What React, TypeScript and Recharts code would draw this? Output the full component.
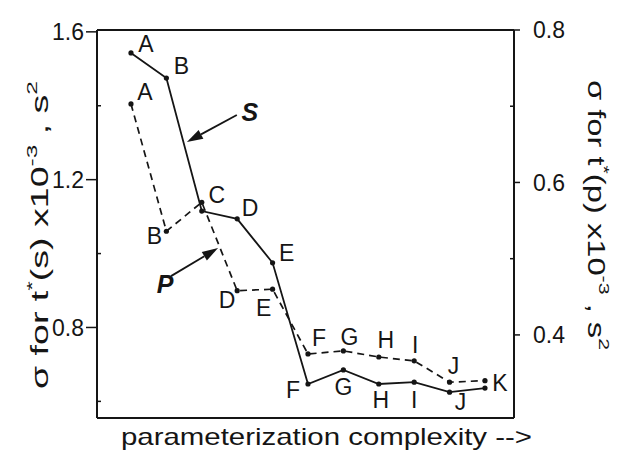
import { LineChart, Line, XAxis, YAxis, ReferenceLine, LabelList } from "recharts";

// model points, left to right along the complexity axis
const categories = ["A", "B", "C", "D", "E", "F", "G", "H", "I", "J", "K"];
const sigmaS = [1.543, 1.475, 1.115, 1.094, 0.975, 0.647, 0.685, 0.647, 0.652, 0.625, 0.636];
const sigmaP = [0.703, 0.536, 0.574, 0.458, 0.46, 0.375, 0.379, 0.371, 0.366, 0.338, 0.34];
const pNames = ["A", "B", "", "D", "E", "F", "G", "H", "I", "J", ""];
const leftTicks = [0.6, 0.8, 1.0, 1.2, 1.4, 1.6];
const leftLabelled = [0.8, 1.2, 1.6];
const rightTicks = [0.4, 0.5, 0.6, 0.7, 0.8];
const rightLabelled = [0.4, 0.6, 0.8];

// annotation arrows (tail -> tip), in data units of the left axis
const arrowS = [{ x: 2.99, y: 1.375 }, { x: 1.58, y: 1.302 }];
const arrowP = [{ x: 1.13, y: 0.939 }, { x: 2.46, y: 1.015 }];

// where each letter sits relative to its point (px)
const sOffsets = [[15, -9], [15, -12], [15, -16], [13, -11], [14, -10], [-15, 6], [0, 17], [2, 16], [0, 18], [11, 10], [15, -5]];
const pOffsets = [[14, -12], [-12, 5], [0, 0], [-10, 9], [-9, 19], [11, -16], [6, -14], [7, -17], [1, -16], [4, -16], [0, 0]];

const FONT = '"Liberation Sans", Arial, Helvetica, sans-serif';
const INK = "#151515";

const data = categories.map((c, i) => ({ idx: i, name: c, s: sigmaS[i], p: sigmaP[i] }));

const pointLabel = (names: string[], offsets: number[][]) => (props: any) => {
  const i = props.index ?? props.value;
  const name = names[i];
  if (!name) return null;
  const [dx, dy] = offsets[i];
  return (
    <text
      x={props.x + dx}
      y={props.y + dy}
      textAnchor="middle"
      dominantBaseline="central"
      fontFamily={FONT}
      fontSize={23}
      fill={INK}
    >
      {name}
    </text>
  );
};

const Dot = (props: any) => {
  if (props.cx == null || props.cy == null) return null;
  return <circle cx={props.cx} cy={props.cy} r={2.6} fill={INK} />;
};

// tick with a long outward mark when labelled, a short inward nick otherwise
const axisTick = (side: "left" | "right", labelled: number[], offset: number, outLen: number) => (props: any) => {
  const { x, y, payload } = props;
  const v = payload.value;
  const major = labelled.includes(v);
  const sign = side === "left" ? 1 : -1;
  const ax = x + sign * offset;
  const end = major ? ax - sign * outLen : ax + sign * 4;
  return (
    <g>
      <line x1={ax} y1={y} x2={end} y2={y} stroke={INK} strokeWidth={1.5} />
      {major && (
        <text
          x={x}
          y={y}
          dy="0.355em"
          textAnchor={side === "left" ? "end" : "start"}
          fontFamily={FONT}
          fontSize={23}
          fill={INK}
        >
          {v.toFixed(1)}
        </text>
      )}
    </g>
  );
};

const arrowShape = (letter: string, tdx: number, tdy: number) => (props: any) => {
  const { x1, y1, x2, y2 } = props;
  if (x1 == null) return null;
  const ang = Math.atan2(y2 - y1, x2 - x1);
  const len = 16;
  const w = 5;
  const bx = x2 - len * Math.cos(ang);
  const by = y2 - len * Math.sin(ang);
  const px = -Math.sin(ang) * w;
  const py = Math.cos(ang) * w;
  return (
    <g>
      <line x1={x1} y1={y1} x2={bx} y2={by} stroke={INK} strokeWidth={1.8} />
      <polygon points={`${x2},${y2} ${bx + px},${by + py} ${bx - px},${by - py}`} fill={INK} />
      <text
        x={x1 + tdx}
        y={y1 + tdy}
        textAnchor="middle"
        dominantBaseline="central"
        fontFamily={FONT}
        fontSize={25}
        fontStyle="italic"
        fontWeight="bold"
        fill={INK}
      >
        {letter}
      </text>
    </g>
  );
};

const SigmaTitle = ({ which }: { which: string }) => (
  <>
    σ for t<tspan fontSize={15} dy={-9}>*</tspan>
    <tspan dy={9}>({which}) x10</tspan>
    <tspan fontSize={15} dy={-9}>-3</tspan>
    <tspan dy={9}> , s</tspan>
    <tspan fontSize={15} dy={-9}>2</tspan>
  </>
);

const yTitle = (which: string, dx: number, dy: number, angle: number, length: number) => (props: any) => {
  const vb = props.viewBox;
  if (!vb) return null;
  const cx = vb.x + dx;
  const cy = vb.y + vb.height / 2 + dy;
  return (
    <text
      x={cx}
      y={cy}
      transform={`rotate(${angle} ${cx} ${cy})`}
      textAnchor="middle"
      dominantBaseline="central"
      fontFamily={FONT}
      fontSize={23}
      fill={INK}
      textLength={length}
      lengthAdjust="spacingAndGlyphs"
    >
      <SigmaTitle which={which} />
    </text>
  );
};

const xTitle = (props: any) => {
  const vb = props.viewBox;
  if (!vb) return null;
  return (
    <text
      x={vb.x + vb.width / 2 + 21}
      y={vb.y + 27}
      textAnchor="middle"
      fontFamily={FONT}
      fontSize={24}
      fill={INK}
      textLength={411}
      lengthAdjust="spacingAndGlyphs"
    >
      parameterization complexity --&gt;
    </text>
  );
};

export default function App() {
  return (
    <div style={{ position: "absolute", left: 0, top: 0, background: "#fff" }}>
      <LineChart width={627} height={458} data={data} margin={{ top: 30, right: 0, bottom: 0, left: 0 }}>
        <XAxis
          dataKey="idx"
          type="number"
          domain={[-0.96, 10.82]}
          tick={false}
          tickLine={false}
          height={40}
          axisLine={{ stroke: INK, strokeWidth: 2 }}
          label={{ content: xTitle }}
        />
        <YAxis
          yAxisId="left"
          width={97}
          domain={[0.555, 1.605]}
          ticks={leftTicks}
          tickSize={11}
          tickMargin={2}
          axisLine={{ stroke: INK, strokeWidth: 2 }}
          tickLine={false}
          tick={axisTick("left", leftLabelled, 13, 11)}
          label={{ content: yTitle("s", 40, 11, -90, 308) }}
        />
        <YAxis
          yAxisId="right"
          orientation="right"
          width={113}
          domain={[0.291, 0.8]}
          ticks={rightTicks}
          tickSize={6}
          tickMargin={13}
          axisLine={{ stroke: INK, strokeWidth: 2 }}
          tickLine={false}
          tick={axisTick("right", rightLabelled, 19, 6)}
          label={{ content: yTitle("p", 82, -9, 90, 270) }}
        />
        <ReferenceLine yAxisId="left" y={1.605} stroke={INK} strokeWidth={2} ifOverflow="visible" />
        <ReferenceLine yAxisId="left" segment={arrowS} ifOverflow="visible" shape={arrowShape("S", 13, -3)} />
        <ReferenceLine yAxisId="left" segment={arrowP} ifOverflow="visible" shape={arrowShape("P", -6, 8)} />
        <Line
          yAxisId="right"
          type="linear"
          dataKey="p"
          stroke={INK}
          strokeWidth={1.7}
          strokeDasharray="7 5"
          dot={<Dot />}
          isAnimationActive={false}
        >
          <LabelList dataKey="idx" content={pointLabel(pNames, pOffsets)} />
        </Line>
        <Line
          yAxisId="left"
          type="linear"
          dataKey="s"
          stroke={INK}
          strokeWidth={1.8}
          dot={<Dot />}
          isAnimationActive={false}
        >
          <LabelList dataKey="idx" content={pointLabel(categories, sOffsets)} />
        </Line>
      </LineChart>
    </div>
  );
}
